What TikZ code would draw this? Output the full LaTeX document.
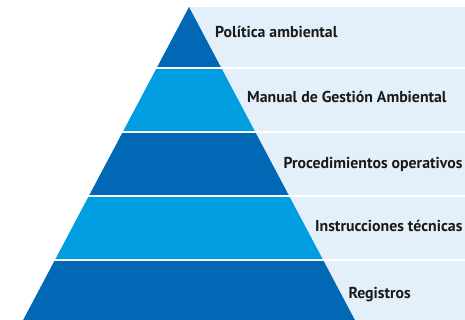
\documentclass[tikz,border=0pt]{standalone}
\usepackage{fontspec}
\setmainfont{PT Sans}
\definecolor{darkblue}{RGB}{0,104,180}
\definecolor{lightblue}{RGB}{0,158,224}
\definecolor{pale}{RGB}{227,240,249}
\definecolor{txt}{RGB}{26,26,26}
\begin{document}
\begin{tikzpicture}[x=1pt,y=1pt,
  lbl/.style={anchor=base west,inner sep=0pt,font=\fontsize{15.8}{16}\selectfont\bfseries,text=txt},
  sep/.style={draw=white,line width=2.4pt}]
\useasboundingbox (0,0) rectangle (465,320);
\fill[white] (0,0) rectangle (465,320);
% pale background
\fill[pale] (189,0) rectangle (465,313);
% pyramid: apex (189,313), half width = 0.53*depth
\coordinate (apex) at (189,313);
\fill[darkblue]  (apex) -- (189-0.53*61,252) -- (189+0.53*61,252) -- cycle;
\fill[lightblue] (189-0.53*61,252) -- (189+0.53*61,252) -- (189+0.53*125,188) -- (189-0.53*125,188) -- cycle;
\fill[darkblue]  (189-0.53*125,188) -- (189+0.53*125,188) -- (189+0.53*189,124) -- (189-0.53*189,124) -- cycle;
\fill[lightblue] (189-0.53*189,124) -- (189+0.53*189,124) -- (189+0.53*253,60) -- (189-0.53*253,60) -- cycle;
\fill[darkblue]  (189-0.53*253,60) -- (189+0.53*253,60) -- (189+0.53*314,-1) -- (189-0.53*314,-1) -- cycle;
% separators
\foreach \yy in {252,188,124,60} \draw[sep] (0,\yy) -- (465,\yy);
% labels
\node[lbl] (l1) at (215,282.7) {Política ambiental};
\node[lbl] (l2) at (247,217.3) {Manual de Gestión Ambiental};
\node[lbl] (l3) at (283.3,151.7) {Procedimientos operativos};
\node[lbl] (l4) at (315,88.3) {Instrucciones técnicas};
\node[lbl] (l5) at (348.3,21.7) {Registros};
\end{tikzpicture}
\end{document}
